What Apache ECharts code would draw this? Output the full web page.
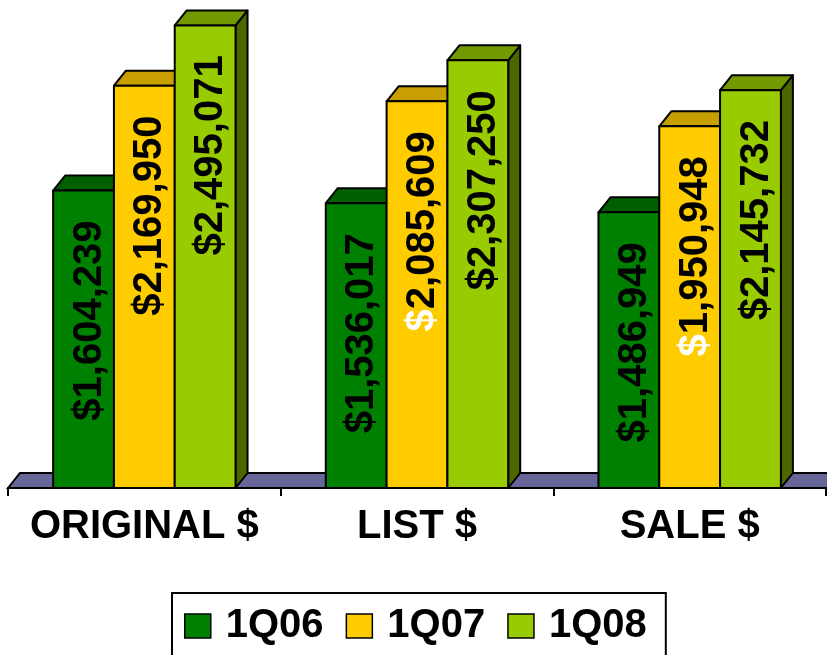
<!DOCTYPE html>
<html>
<head>
<meta charset="utf-8">
<script src="https://cdn.jsdelivr.net/npm/echarts@6/dist/echarts.min.js"></script>
<style>
  html, body { margin: 0; padding: 0; background: #fff; }
  #chart { width: 827px; height: 655px; }
</style>
</head>
<body>
<div id="chart"></div>
<script>
const categories = ['ORIGINAL $', 'LIST $', 'SALE $'];
const seriesNames = ['1Q06', '1Q07', '1Q08'];
const q106 = [1604239, 1536017, 1486949];
const q107 = [2169950, 2085609, 1950948];
const q108 = [2495071, 2307250, 2145732];

// bar faces: front, top, side
const faceColors = [
  ['#008000', '#006000', '#004000'],
  ['#ffcc00', '#c79f00', '#806600'],
  ['#99cc00', '#739900', '#4d6600']
];
// labels where excel drew the $ in white
const whiteSign = { '1-1': true, '2-1': true };

const DX = 12, DY = -15;
const FONT = 'Liberation Sans, Arial, sans-serif';

const chart = echarts.init(document.getElementById('chart'));

function fmt(v) {
  return v.toLocaleString('en-US');
}

function makeBar(k) {
  return function (params, api) {
    const ci = api.value(0);
    const v = api.value(1);
    const topPt = api.coord([ci, v]);
    const basePt = api.coord([ci, 0]);
    const band = api.size([1, 0])[0];
    const w = band * 0.223;
    const x0 = topPt[0] + (k - 1.5) * w;
    const x1 = x0 + w;
    const yt = topPt[1];
    const yb = basePt[1];
    const c = faceColors[k];
    const line = { stroke: '#000', lineWidth: 2, lineJoin: 'round' };
    const white = whiteSign[ci + '-' + k];
    const text = white ? '{w|$}' + fmt(v) : '$' + fmt(v);
    return {
      type: 'group',
      children: [
        {
          type: 'polygon',
          shape: { points: [[x1, yb], [x1 + DX, yb + DY], [x1 + DX, yt + DY], [x1, yt]] },
          style: Object.assign({ fill: c[2] }, line)
        },
        {
          type: 'polygon',
          shape: { points: [[x0, yt], [x0 + DX, yt + DY], [x1 + DX, yt + DY], [x1, yt]] },
          style: Object.assign({ fill: c[1] }, line)
        },
        {
          type: 'rect',
          shape: { x: x0, y: yt, width: w, height: yb - yt },
          style: Object.assign({ fill: c[0] }, line)
        },
        {
          type: 'text',
          x: x0 + w / 2 + DX / 2,
          y: yt + 130,
          rotation: Math.PI / 2,
          style: {
            text: text,
            fill: '#000',
            fontSize: 40,
            fontWeight: 'bold',
            fontFamily: FONT,
            align: 'center',
            verticalAlign: 'middle',
            rich: {
              w: { fill: '#fff', fontSize: 40, fontWeight: 'bold', fontFamily: FONT }
            }
          }
        }
      ]
    };
  };
}

function renderFloor(params, api) {
  const cs = params.coordSys;
  const y0 = api.coord([0, 0])[1];
  const xl = cs.x;
  const xr = cs.x + cs.width + 40;
  return {
    type: 'polygon',
    shape: { points: [[xl, y0], [xl + DX, y0 + DY], [xr + DX, y0 + DY], [xr, y0]] },
    style: { fill: '#666699', stroke: '#000', lineWidth: 2 }
  };
}

const values = [q106, q107, q108];
const series = [{
  type: 'custom',
  name: 'floor',
  renderItem: renderFloor,
  data: [[0, 0]],
  silent: true,
  z: 1
}];
values.forEach(function (arr, k) {
  series.push({
    type: 'custom',
    name: seriesNames[k],
    renderItem: makeBar(k),
    itemStyle: { color: faceColors[k][0] },
    data: arr.map(function (v, i) { return [i, v]; }),
    z: 2
  });
});

chart.setOption({
  animation: false,
  grid: { left: 8, right: 1, top: 6, bottom: 167 },
  xAxis: {
    type: 'category',
    data: categories,
    axisLine: { lineStyle: { color: '#000', width: 2 } },
    axisTick: { show: true, interval: 0, length: 8, lineStyle: { color: '#000', width: 2 } },
    axisLabel: {
      interval: 0,
      hideOverlap: false,
      margin: 19,
      color: '#000',
      fontSize: 40,
      fontWeight: 'bold',
      fontFamily: FONT
    },
    z: 3
  },
  yAxis: {
    type: 'value',
    min: 0,
    max: 2600000,
    show: false
  },
  legend: {
    left: 172,
    top: 593,
    padding: [13, 19, 14, 12],
    borderColor: '#000',
    borderWidth: 2,
    itemWidth: 26,
    itemHeight: 24,
    itemGap: 22,
    icon: 'rect',
    data: seriesNames.map(function (n, k) {
      return { name: n, itemStyle: { color: faceColors[k][0], borderColor: '#000', borderWidth: 1.5 } };
    }),
    textStyle: {
      color: '#000',
      fontSize: 40,
      fontWeight: 'bold',
      fontFamily: FONT,
      padding: [0, 0, 0, 10]
    }
  },
  series: series
});
</script>
</body>
</html>
